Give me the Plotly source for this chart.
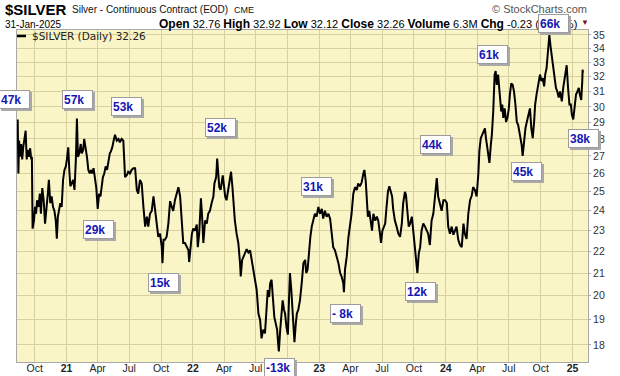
import math
import plotly.graph_objects as go

# ---------------- data ----------------
dates = [
"2020-08-13","2020-08-15","2020-08-17","2020-08-20","2020-08-23","2020-08-26","2020-08-29","2020-09-01","2020-09-05","2020-09-08",
"2020-09-11","2020-09-15","2020-09-18","2020-09-21","2020-09-23","2020-09-25","2020-09-29","2020-10-02","2020-10-05","2020-10-08",
"2020-10-12","2020-10-16","2020-10-19","2020-10-23","2020-10-27","2020-10-31","2020-11-04","2020-11-08","2020-11-11","2020-11-15",
"2020-11-19","2020-11-23","2020-11-27","2020-12-01","2020-12-04","2020-12-07","2020-12-10","2020-12-14","2020-12-18","2020-12-22",
"2020-12-26","2020-12-30","2021-01-02","2021-01-06","2021-01-09","2021-01-12","2021-01-16","2021-01-20","2021-01-24","2021-01-28",
"2021-01-31","2021-02-03","2021-02-07","2021-02-11","2021-02-14","2021-02-18","2021-02-21","2021-02-25","2021-03-01","2021-03-05",
"2021-03-09","2021-03-13","2021-03-16","2021-03-20","2021-03-24","2021-03-28","2021-04-01","2021-04-05","2021-04-09","2021-04-13",
"2021-04-16","2021-04-20","2021-04-24","2021-04-28","2021-05-02","2021-05-06","2021-05-09","2021-05-13","2021-05-17","2021-05-21",
"2021-05-26","2021-05-31","2021-06-04","2021-06-09","2021-06-14","2021-06-19","2021-06-24","2021-06-28","2021-07-03","2021-07-08",
"2021-07-13","2021-07-18","2021-07-23","2021-07-27","2021-08-01","2021-08-06","2021-08-11","2021-08-16","2021-08-21","2021-08-25",
"2021-08-30","2021-09-04","2021-09-09","2021-09-14","2021-09-18","2021-09-23","2021-09-28","2021-10-03","2021-10-05","2021-10-08",
"2021-10-12","2021-10-17","2021-10-22","2021-10-27","2021-11-01","2021-11-05","2021-11-10","2021-11-15","2021-11-20","2021-11-25",
"2021-11-30","2021-12-04","2021-12-09","2021-12-14","2021-12-19","2021-12-21","2021-12-26","2021-12-29","2022-01-02","2022-01-07",
"2022-01-12","2022-01-15","2022-01-19","2022-01-21","2022-01-24","2022-01-27","2022-01-31","2022-02-05","2022-02-10","2022-02-14",
"2022-02-19","2022-02-24","2022-03-01","2022-03-04","2022-03-09","2022-03-12","2022-03-15","2022-03-18","2022-03-22","2022-03-25",
"2022-03-28","2022-04-01","2022-04-04","2022-04-08","2022-04-13","2022-04-18","2022-04-21","2022-04-25","2022-04-28","2022-05-02",
"2022-05-07","2022-05-12","2022-05-17","2022-05-19","2022-05-23","2022-05-26","2022-05-31","2022-06-05","2022-06-10","2022-06-15",
"2022-06-20","2022-06-24","2022-06-29","2022-07-04","2022-07-09","2022-07-14","2022-07-18","2022-07-23","2022-07-28","2022-08-02",
"2022-08-05","2022-08-09","2022-08-12","2022-08-16","2022-08-20","2022-08-24","2022-08-28","2022-09-01","2022-09-04","2022-09-06",
"2022-09-10","2022-09-14","2022-09-17","2022-09-21","2022-09-24","2022-09-28","2022-10-02","2022-10-05","2022-10-08","2022-10-12",
"2022-10-15","2022-10-19","2022-10-21","2022-10-25","2022-10-28","2022-11-01","2022-11-06","2022-11-11","2022-11-16","2022-11-21",
"2022-11-24","2022-11-28","2022-12-02","2022-12-06","2022-12-10","2022-12-15","2022-12-19","2022-12-24","2022-12-29","2023-01-03",
"2023-01-08","2023-01-12","2023-01-17","2023-01-22","2023-01-27","2023-02-01","2023-02-06","2023-02-10","2023-02-15","2023-02-20",
"2023-02-25","2023-03-02","2023-03-06","2023-03-11","2023-03-13","2023-03-16","2023-03-21","2023-03-26","2023-03-30","2023-04-04",
"2023-04-09","2023-04-14","2023-04-19","2023-04-23","2023-04-28","2023-05-03","2023-05-08","2023-05-11","2023-05-15","2023-05-18",
"2023-05-21","2023-05-25","2023-05-29","2023-06-02","2023-06-06","2023-06-11","2023-06-16","2023-06-20","2023-06-25","2023-06-28",
"2023-07-02","2023-07-07","2023-07-10","2023-07-14","2023-07-18","2023-07-22","2023-07-26","2023-07-30","2023-08-02","2023-08-07",
"2023-08-12","2023-08-17","2023-08-22","2023-08-27","2023-08-31","2023-09-05","2023-09-08","2023-09-12","2023-09-16","2023-09-20",
"2023-09-25","2023-09-29","2023-10-04","2023-10-09","2023-10-11","2023-10-15","2023-10-19","2023-10-23","2023-10-28","2023-11-02",
"2023-11-07","2023-11-11","2023-11-16","2023-11-21","2023-11-26","2023-12-01","2023-12-06","2023-12-10","2023-12-15","2023-12-20",
"2023-12-25","2023-12-30","2024-01-04","2024-01-08","2024-01-13","2024-01-18","2024-01-23","2024-01-28","2024-02-01","2024-02-06",
"2024-02-11","2024-02-16","2024-02-21","2024-02-25","2024-03-01","2024-03-06","2024-03-11","2024-03-16","2024-03-20","2024-03-25",
"2024-03-30","2024-04-04","2024-04-07","2024-04-11","2024-04-15","2024-04-18","2024-04-23","2024-04-26","2024-04-30","2024-05-04",
"2024-05-06","2024-05-10","2024-05-13","2024-05-17","2024-05-21","2024-05-24","2024-05-27","2024-05-31","2024-06-03","2024-06-06",
"2024-06-09","2024-06-12","2024-06-15","2024-06-19","2024-06-23","2024-06-27","2024-07-01","2024-07-04","2024-07-08","2024-07-12",
"2024-07-16","2024-07-20","2024-07-24","2024-07-28","2024-08-02","2024-08-07","2024-08-10","2024-08-14","2024-08-18","2024-08-22",
"2024-08-26","2024-08-31","2024-09-04","2024-09-08","2024-09-12","2024-09-15","2024-09-19","2024-09-24","2024-09-29","2024-10-03",
"2024-10-07","2024-10-11","2024-10-14","2024-10-18","2024-10-22","2024-10-26","2024-10-30","2024-11-03","2024-11-06","2024-11-10",
"2024-11-14","2024-11-18","2024-11-22","2024-11-26","2024-12-01","2024-12-05","2024-12-10","2024-12-15","2024-12-19","2024-12-23",
"2024-12-27","2024-12-30","2025-01-03","2025-01-07","2025-01-11","2025-01-15","2025-01-19","2025-01-22","2025-01-26","2025-01-29",
"2025-01-30","2025-01-31",
]

prices = [
29.2,26.0,27.9,26.95,27.7,26.8,27.5,28.1,28.5,26.8,
27.35,26.95,27.45,26.8,26.95,23.1,23.5,24.2,23.85,24.55,
24.2,24.9,23.85,25.2,24.55,23.35,24.0,24.9,25.65,24.4,
24.75,24.2,24.0,23.5,22.6,23.7,24.0,24.4,24.2,25.65,
26.2,26.4,26.8,27.5,26.2,25.3,25.45,25.65,25.1,26.8,
29.25,26.95,27.15,27.7,27.15,27.35,28.0,27.5,26.95,26.2,
26.0,26.2,26.0,26.3,25.65,25.2,24.1,24.9,24.75,25.3,
25.8,26.0,26.4,26.2,26.8,27.15,27.25,27.5,27.9,28.25,
27.9,28.0,27.8,28.0,27.9,25.8,25.9,26.1,26.0,26.2,
26.3,26.3,25.1,24.9,25.65,25.45,24.2,23.2,23.7,23.2,
23.85,24.0,24.75,24.0,23.7,22.7,22.85,22.2,21.45,22.55,
22.55,22.7,23.35,24.5,24.2,24.0,24.55,24.9,25.25,24.75,
23.5,22.4,22.4,22.2,22.05,21.5,22.4,22.85,23.1,23.0,
23.3,22.2,22.85,23.7,24.65,23.85,22.4,23.5,23.35,23.85,
24.0,24.4,24.75,25.45,25.8,26.85,26.0,25.25,25.1,25.65,
25.9,25.25,24.75,24.55,25.1,25.8,26.1,25.25,24.4,23.5,
22.85,22.4,21.45,20.85,21.6,21.75,21.9,22.1,21.95,22.05,
21.6,21.15,20.85,20.25,19.25,18.98,18.25,18.6,18.45,19.4,
20.25,19.95,20.55,20.7,19.95,19.1,18.85,18.6,18.05,17.75,
18.6,19.55,19.8,19.4,19.25,18.7,18.4,19.7,21.0,20.25,
19.55,18.6,18.1,18.85,19.25,19.4,19.8,20.55,21.45,21.6,
21.0,21.15,22.05,22.7,23.2,23.5,23.85,23.7,24.2,23.85,
24.1,23.6,24.0,23.7,23.85,23.6,22.7,22.2,22.05,21.75,
21.45,21.0,20.85,20.55,20.15,21.15,21.75,22.7,23.2,23.85,
24.9,25.25,25.1,25.45,25.3,25.5,26.0,26.2,25.55,24.2,
23.7,24.0,23.35,23.0,23.85,23.5,23.7,23.5,22.85,22.4,
23.0,23.2,23.35,24.2,25.0,25.3,25.0,24.75,24.1,23.5,
23.2,22.85,22.7,23.35,24.4,25.0,24.83,23.7,23.2,23.35,
23.7,23.0,22.2,21.3,21.0,21.9,22.2,23.0,23.35,23.2,
23.0,22.85,22.3,23.5,23.85,24.75,25.75,24.75,24.3,24.0,
24.55,24.55,24.4,23.2,22.85,23.2,22.8,23.0,23.2,22.55,
22.3,22.2,23.35,22.85,22.6,23.85,24.55,24.8,25.25,25.1,
24.75,26.0,27.3,28.05,28.25,28.45,28.65,28.05,27.45,26.7,
26.6,27.65,28.25,29.7,32.15,32.4,31.45,32.15,31.25,30.8,
29.7,30.15,29.3,29.9,29.05,29.3,29.9,30.8,31.55,31.45,
31.0,30.15,29.05,28.85,28.25,27.65,27.0,27.85,28.65,29.05,
29.5,29.9,28.65,28.05,29.05,30.15,30.8,31.45,32.15,31.7,
31.9,31.35,32.15,32.6,33.8,35.0,34.05,33.3,32.6,31.7,
31.25,31.0,30.6,31.0,30.35,31.25,31.9,32.8,31.25,30.15,
30.15,29.5,29.2,30.15,30.8,31.0,31.25,30.8,30.45,31.7,
32.49,32.26,
]

x_tick_dates = ["2020-10-01","2021-01-01","2021-04-01","2021-07-01","2021-10-01","2022-01-01",
                "2022-04-01","2022-07-01","2022-10-01","2023-01-01","2023-04-01","2023-07-01",
                "2023-10-01","2024-01-01","2024-04-01","2024-07-01","2024-10-01","2025-01-01"]
x_tick_text = ["Oct","<b>21</b>","Apr","Jul","Oct","<b>22</b>","Apr","Jul","Oct","<b>23</b>",
               "Apr","Jul","Oct","<b>24</b>","Apr","Jul","Oct","<b>25</b>"]
y_tick_vals = list(range(18, 36))
y_tick_text = [str(v) for v in y_tick_vals]

cot_labels = ["47k","57k","53k","29k","52k","15k","31k","- 8k","-13k","12k","44k","61k","45k","66k","38k"]

# ---------------- figure ----------------
W, H = 620, 376
L, R, T, B = 17, 588, 30, 362

def px(x):
    return (x - L) / (R - L)

def py(y):
    return (B - y) / (B - T)

fig = go.Figure()
fig.add_trace(go.Scatter(x=dates, y=prices, mode="lines",
                         line=dict(color="#000000", width=2),
                         hoverinfo="skip", showlegend=False))

grid = "#D6D19E"
fig.update_layout(
    width=W, height=H,
    margin=dict(l=L, r=W - R, t=T, b=H - B, pad=0),
    paper_bgcolor="white",
    plot_bgcolor="#F9F5C6",
    showlegend=False,
    font=dict(family="Liberation Sans, Arial, sans-serif", color="#222222"),
)
fig.update_xaxes(
    type="date",
    range=["2020-08-11", "2025-02-14 14:00"],
    tickmode="array", tickvals=x_tick_dates, ticktext=x_tick_text,
    showgrid=True, gridcolor=grid, gridwidth=1,
    showline=True, linecolor="#A8A8A8", linewidth=1, mirror=True,
    ticks="", ticklabelstandoff=-4,
    tickfont=dict(size=10.5, color="#222222"),
    zeroline=False, automargin=False,
)
fig.update_yaxes(
    type="log",
    range=[math.log10(17.35), math.log10(35.377)],
    side="right",
    tickmode="array", tickvals=y_tick_vals, ticktext=y_tick_text,
    showgrid=True, gridcolor=grid, gridwidth=1,
    showline=True, linecolor="#A8A8A8", linewidth=1, mirror=True,
    ticks="outside", ticklen=2, tickcolor="#A8A8A8",
    tickfont=dict(size=10.5, color="#333333"),
    zeroline=False, automargin=False,
)

ann = []
# header
ann.append(dict(text="<b>$SILVER</b>", x=px(3), y=py(9), xanchor="left", yanchor="middle",
                font=dict(size=15, color="#000000")))
ann.append(dict(text="Silver - Continuous Contract (EOD)", x=px(70), y=py(9.5), xanchor="left", yanchor="middle",
                font=dict(size=10, color="#111111")))
ann.append(dict(text="CME", x=px(232), y=py(10), xanchor="left", yanchor="middle",
                font=dict(size=9, color="#111111")))
ann.append(dict(text="31-Jan-2025", x=px(3), y=py(24), xanchor="left", yanchor="middle",
                font=dict(size=10, color="#000000")))
B12 = "<b><span style='font-size:12px'>%s</span></b>"
info = (B12 % "Open" + " 32.76 " + B12 % "High" + " 32.92 " + B12 % "Low" + " 32.12 " +
        B12 % "Close" + " 32.26 " + B12 % "Volume" + " 6.3M " + B12 % "Chg" + " -0.23 (-0.71%)")
ann.append(dict(text=info, x=px(579), y=py(24), xanchor="right", yanchor="middle",
                font=dict(size=11, color="#000000")))
ann.append(dict(text="▼", x=px(584.5), y=py(23), xanchor="center", yanchor="middle",
                font=dict(size=8, color="#7A1030")))
ann.append(dict(text="© StockCharts.com", x=px(589), y=py(8.5), xanchor="right", yanchor="middle",
                font=dict(size=11, color="#555555")))
# legend
ann.append(dict(text="$SILVER (Daily) 32.26", x=px(30), y=py(36), xanchor="left", yanchor="middle",
                font=dict(family="DejaVu Sans, Verdana, sans-serif", size=10.5, color="#222222")))

# COT boxes
box_pos = [(-1, 90), (62, 90), (111, 97), (83, 220), (205, 118), (147.5, 273), (301, 177),
           (329.5, 304), (263.5, 358), (405, 282), (419.5, 135), (477, 45), (510.5, 162),
           (537.5, 13.5), (567.5, 128.5)]
shadow = "#A9A9A9"
for lbl, (bx, by) in zip(cot_labels, box_pos):
    common = dict(text="<b>%s</b>" % lbl, x=px(bx), y=py(by), xanchor="left", yanchor="top",
                  width=27, height=15, borderpad=1, borderwidth=1, align="left", valign="middle")
    ann.append(dict(common, xshift=2, yshift=-2, bgcolor=shadow, bordercolor=shadow,
                    font=dict(size=12, color=shadow)))
    ann.append(dict(common, bgcolor="white", bordercolor="#9C9C9C",
                    font=dict(size=12, color="#1616B4")))

for a in ann:
    a.setdefault("xref", "paper")
    a.setdefault("yref", "paper")
    a.setdefault("showarrow", False)
fig.update_layout(annotations=ann)

# legend line sample
fig.add_shape(type="line", xref="paper", yref="paper",
              x0=px(17), x1=px(26), y0=py(36), y1=py(36),
              line=dict(color="#000000", width=2.5))

fig.write_html("out.html", config={"displayModeBar": False},
               post_script="document.body.style.margin='0';document.body.style.padding='0';")
